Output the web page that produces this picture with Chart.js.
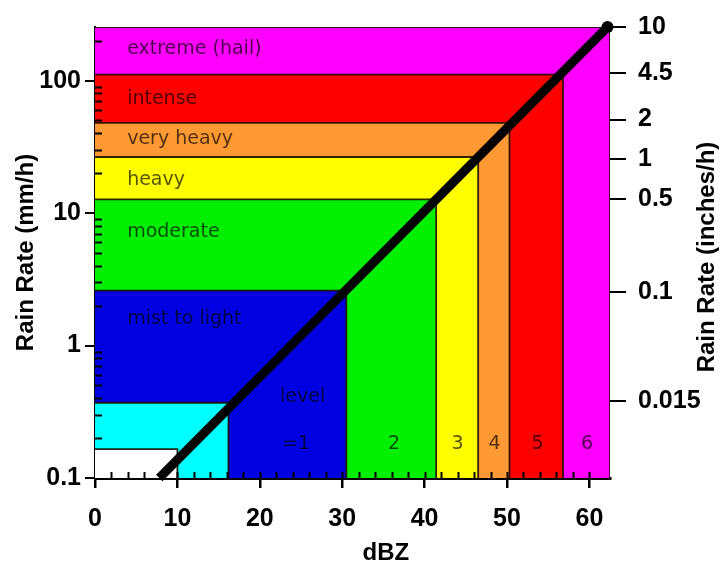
<!DOCTYPE html>
<html lang="en">
<head>
<meta charset="UTF-8">
<title>Rain rate vs dBZ</title>
<script src="https://cdn.jsdelivr.net/npm/chart.js@4/dist/chart.umd.min.js"></script>
<style>
  body { margin: 0; background: #fff; }
  #wrap { width: 723px; height: 569px; position: relative; }
</style>
</head>
<body>
<div id="wrap"><canvas id="zr"></canvas></div>
<script>
// bands, largest first: right edge in dBZ, top in mm/h
const bandRight = [62.5, 56.8, 50.3, 46.5, 41.4, 30.5, 16.2, 10];
const bandTop = [254, 111, 48, 26.5, 12.7, 2.6, 0.37, 0.165];
const bandColors = ['#ff00ff', '#ff0000', '#ff9933', '#ffff00', '#00f000', '#0000e0', '#00ffff', '#ffffff'];

// Z-R line
const lineDbz = [7.8, 62.2];
const lineRate = [0.1, 254];

// in-plot text
const bandNames = ['extreme (hail)', 'intense', 'very heavy', 'heavy', 'moderate', 'mist to light'];
const bandNameRate = [174, 72, 36, 17.7, 7.2, 1.59];
const levelNums = ['=1', '2', '3', '4', '5', '6'];
const levelNumDbz = [24.4, 36.3, 44, 48.5, 53.7, 59.7];

// axes
const xTicks = [0, 10, 20, 30, 40, 50, 60];
const mmTicks = [0.1, 1, 10, 100];
const inchTicks = [10, 4.5, 2, 1, 0.5, 0.1, 0.015];

const AXIS_FONT = "'Liberation Sans', Arial, sans-serif";
const TEXT_FONT = "'DejaVu Sans', sans-serif";

const datasets = bandRight.map((r, i) => ({
  label: 'band' + i,
  data: [{ x: 0, y: bandTop[i] }, { x: r, y: bandTop[i] }, { x: r, y: 0.1 }],
  showLine: true,
  fill: 'start',
  backgroundColor: bandColors[i],
  borderColor: 'rgba(30,15,0,0.9)',
  borderWidth: 1.8,
  pointRadius: 0,
  tension: 0,
  order: 10 - i
}));

datasets.push({
  label: 'Z-R',
  data: lineDbz.map((d, i) => ({ x: d, y: lineRate[i] })),
  showLine: true,
  fill: false,
  borderColor: '#000',
  borderWidth: 9,
  pointRadius: [0, 6],
  pointBackgroundColor: '#000',
  pointBorderWidth: 0,
  clip: false,
  order: 0
});

const extras = {
  id: 'extras',
  afterDatasetsDraw(chart) {
    const ctx = chart.ctx;
    const x = chart.scales.x, y = chart.scales.y;
    const area = chart.chartArea;
    ctx.save();

    // minor ticks, drawn inward
    ctx.strokeStyle = '#000';
    ctx.lineWidth = 2;
    ctx.beginPath();
    for (let dec = 0.1; dec < 200; dec *= 10) {
      for (let m = 2; m <= 9; m++) {
        const v = dec * m;
        if (v > 254) break;
        const py = Math.round(y.getPixelForValue(v)) + 0.5;
        ctx.moveTo(area.left, py);
        ctx.lineTo(area.left + 7, py);
      }
    }
    for (let d = 2; d < 62; d += 2) {
      const px = Math.round(x.getPixelForValue(d)) + 0.5;
      ctx.moveTo(px, area.bottom);
      ctx.lineTo(px, area.bottom - 6);
    }
    ctx.stroke();

    // band names
    ctx.fillStyle = 'rgba(0,0,0,0.68)';
    ctx.font = '19px ' + TEXT_FONT;
    ctx.textBaseline = 'middle';
    ctx.textAlign = 'left';
    bandNames.forEach((t, i) => {
      ctx.fillText(t, x.getPixelForValue(3.9), y.getPixelForValue(bandNameRate[i]));
    });
    ctx.textAlign = 'center';
    ctx.fillText('level', x.getPixelForValue(25.2), y.getPixelForValue(0.41));
    levelNums.forEach((t, i) => {
      ctx.fillText(t, x.getPixelForValue(levelNumDbz[i]), y.getPixelForValue(0.18));
    });

    // x title and right title
    ctx.fillStyle = '#000';
    ctx.font = 'bold 24px ' + AXIS_FONT;
    ctx.fillText('dBZ', x.getPixelForValue(35.3), 553);
    ctx.translate(707, 257);
    ctx.rotate(-Math.PI / 2);
    ctx.fillText('Rain Rate (inches/h)', 0, 0);
    ctx.restore();
  }
};

new Chart(document.getElementById('zr'), {
  type: 'scatter',
  data: { datasets },
  options: {
    responsive: true,
    maintainAspectRatio: false,
    animation: false,
    layout: { padding: { top: 26, left: 0, right: 0, bottom: 0 } },
    plugins: { legend: { display: false }, tooltip: { enabled: false } },
    scales: {
      x: {
        type: 'linear',
        min: 0,
        max: 62.5,
        afterBuildTicks: s => { s.ticks = xTicks.map(v => ({ value: v })); },
        afterFit: s => { s.height = 91; },
        ticks: {
          autoSkip: false, maxRotation: 0, padding: 16, color: '#000',
          font: { family: AXIS_FONT, size: 25, weight: 'bold' },
          callback: v => String(v)
        },
        grid: { drawOnChartArea: false, drawTicks: true, tickLength: 10, color: '#000', lineWidth: 2.5 },
        border: { color: '#000', width: 3 }
      },
      y: {
        type: 'logarithmic',
        position: 'left',
        min: 0.1,
        max: 254,
        afterBuildTicks: s => { s.ticks = mmTicks.map(v => ({ value: v })); },
        afterFit: s => { s.width = 95; },
        ticks: {
          autoSkip: false, padding: 4, color: '#000',
          font: { family: AXIS_FONT, size: 25, weight: 'bold' },
          callback: v => String(v)
        },
        grid: { drawOnChartArea: false, drawTicks: true, tickLength: 10, color: '#000', lineWidth: 2 },
        border: { color: '#000', width: 2 },
        title: {
          display: true, text: 'Rain Rate (mm/h)', color: '#000',
          font: { family: AXIS_FONT, size: 24, weight: 'bold' },
          padding: { top: 12, bottom: 0 }
        }
      },
      y2: {
        type: 'logarithmic',
        position: 'right',
        min: 0.1 / 25.4,
        max: 10,
        afterBuildTicks: s => { s.ticks = inchTicks.map(v => ({ value: v })); },
        afterFit: s => { s.width = 113; },
        ticks: {
          autoSkip: false, padding: 12, color: '#000',
          font: { family: AXIS_FONT, size: 25, weight: 'bold' },
          callback: v => String(v)
        },
        grid: { drawOnChartArea: false, drawTicks: true, tickLength: 16, color: '#000', lineWidth: 2 },
        border: { display: false }
      }
    }
  },
  plugins: [extras]
});
</script>
</body>
</html>
